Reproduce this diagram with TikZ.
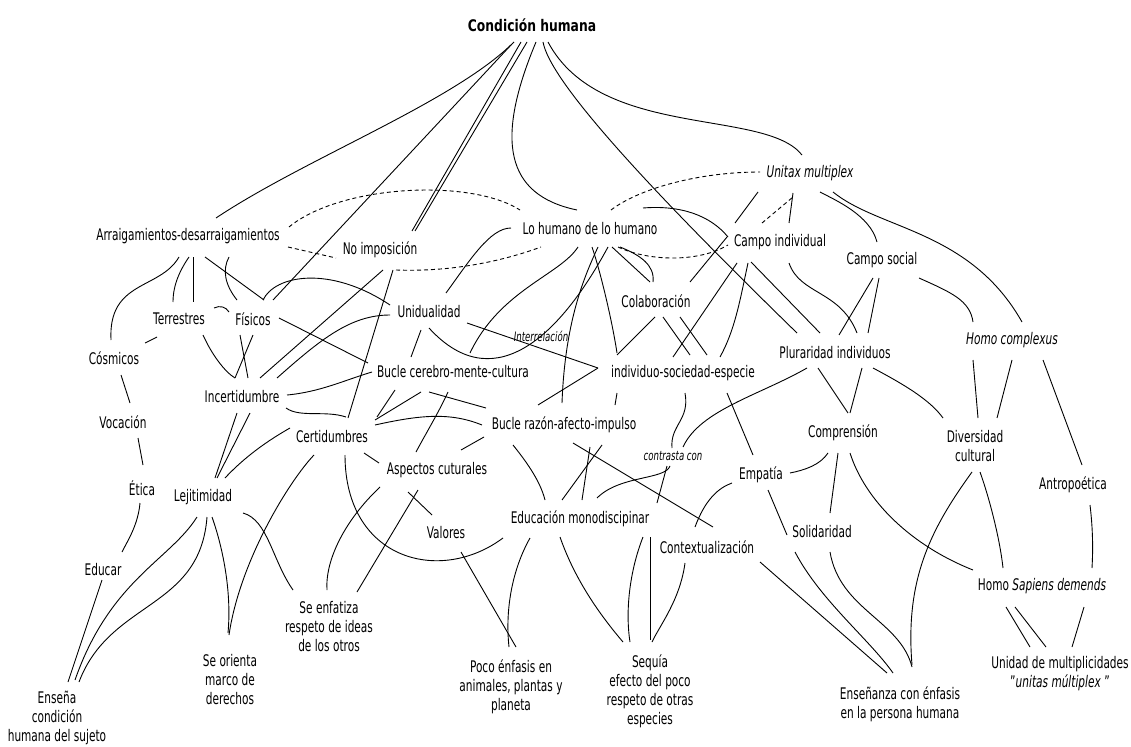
\documentclass[tikz,border=0pt]{standalone}
\usepackage{fontspec}
\setmainfont{DejaVu Sans}[FakeStretch=0.66]
\usetikzlibrary{calc}

\begin{document}
\begin{tikzpicture}[x=1pt,y=-1pt,font=\fontsize{16}{19}\selectfont]
  \tikzstyle{concept}=[inner sep=1pt,align=center]
  \tikzstyle{tag}=[inner sep=1pt,font=\fontsize{13}{15}\selectfont\itshape]
  \tikzstyle{link}=[line width=0.9pt]
  \tikzstyle{dlink}=[line width=0.9pt,dash pattern=on 4pt off 3pt]
  \useasboundingbox (0,0) rectangle (1131,746);
  % concepts
  \node[concept,font=\fontsize{16}{19}\selectfont\bfseries\addfontfeature{FakeStretch=0.77}] (ch) at (532,25) {Condición humana};
  \node[concept] (arr) at (188,236) {Arraigamientos-desarraigamientos};
  \node[concept] (noimp) at (380,250) {No imposición};
  \node[concept] (lohum) at (590,229) {Lo humano de lo humano};
  \node[concept] (unitax) at (810,173) {\itshape Unitax multiplex};
  \node[concept] (campind) at (780,242) {Campo individual};
  \node[concept] (campsoc) at (882,260) {Campo social};
  \node[concept] (terr) at (179,319) {Terrestres};
  \node[concept] (fis) at (253,319) {Físicos};
  \node[concept] (cosm) at (114,358) {Cósmicos};
  \node[concept] (unidual) at (429,312) {Unidualidad};
  \node[tag] (interrel) at (541,336) {Interrelación};
  \node[concept] (colab) at (656,301) {Colaboración};
  \node[concept] (homocomp) at (1012,340) {\itshape Homo complexus};
  \node[concept] (plural) at (835,353) {Pluraridad individuos};
  \node[concept] (bcmc) at (453,372) {Bucle cerebro-mente-cultura};
  \node[concept] (indsoc) at (683,373) {individuo-sociedad-especie};
  \node[concept] (incert) at (242,397) {Incertidumbre};
  \node[concept] (vocac) at (123,422) {Vocación};
  \node[concept] (brai) at (564,425) {Bucle razón-afecto-impulso};
  \node[concept] (certid) at (332,437) {Certidumbres};
  \node[concept] (compren) at (843,433) {Comprensión};
  \node[concept] (divcult) at (975,446) {Diversidad\\cultural};
  \node[tag] (contrasta) at (673,456) {contrasta con};
  \node[concept] (aspcult) at (437,470) {Aspectos cuturales};
  \node[concept] (empatia) at (761,475) {Empatía};
  \node[concept] (antrop) at (1073,485) {Antropoética};
  \node[concept] (etica) at (142,488) {Ética};
  \node[concept] (lejit) at (203,497) {Lejitimidad};
  \node[concept] (edumono) at (580,519) {Educación monodiscipinar};
  \node[concept] (solid) at (822,532) {Solidaridad};
  \node[concept] (valores) at (446,533) {Valores};
  \node[concept] (context) at (707,547) {Contextualización};
  \node[concept] (educar) at (103,570) {Educar};
  \node[concept] (homosap) at (1042,586) {Homo \textit{Sapiens demends}};
  \node[concept] (seenfat) at (329,627) {Se enfatiza\\respeto de ideas\\de los otros};
  \node[concept] (unidad) at (1060,674) {Unidad de multiplicidades\\"\textit{unitas múltiplex}\ "};
  \node[concept] (seorienta) at (230,680) {Se orienta\\marco de\\derechos};
  \node[concept] (poco) at (511,687) {Poco énfasis en\\animales, plantas y\\planeta};
  \node[concept] (sequia) at (650,691) {Sequía\\efecto del poco\\respeto de otras\\especies};
  \node[concept] (ensenanza) at (900,704) {Enseñanza con énfasis\\en la persona humana};
  \node[concept] (ensena) at (57,718) {Enseña\\condición\\humana del sujeto};
  % from the top concept
  \draw[link] ($(ch)+(-18,17)$) .. controls (454,102) and (306,158) .. ($(arr)+(28,-18)$);
  \draw[link] ($(ch)+(-21,20)$) -- ($(fis)+(20,-19)$);
  \draw[link] ($(ch)+(-11,17)$) -- ($(noimp)+(32,-19)$);
  \draw[link] ($(ch)+(-5,17)$) -- ($(noimp)+(35,-19)$);
  \draw[link] ($(ch)+(4,17)$) .. controls (495,140) and (505,195) .. ($(lohum)+(-13,-19)$);
  \draw[link] ($(ch)+(11,17)$) .. controls (550,80) and (640,180) .. ($(plural)+(-38,-20)$);
  \draw[link] ($(ch)+(16,17)$) .. controls (600,140) and (765,108) .. ($(unitax)+(-8,-18)$);
  % dashed relations
  \draw[dlink] ($(arr)+(101,-9)$) .. controls (340,185) and (470,178) .. ($(lohum)+(-70,-19)$);
  \draw[dlink] ($(arr)+(100,11)$) -- ($(noimp)+(-44,8)$);
  \draw[dlink] ($(noimp)+(16,20)$) .. controls (450,272) and (500,262) .. ($(lohum)+(-49,18)$);
  \draw[dlink] ($(lohum)+(21,-19)$) .. controls (640,188) and (700,172) .. ($(unitax)+(-50,-1)$);
  \draw[dlink] ($(lohum)+(28,18)$) .. controls (650,262) and (700,262) .. ($(campind)+(-52,3)$);
  \draw[dlink] ($(campind)+(-18,-19)$) -- ($(unitax)+(-17,24)$);
  % right branch
  \draw[link] ($(unitax)+(-17,20)$) -- ($(campind)+(9,-19)$);
  \draw[link] ($(unitax)+(-52,19)$) -- ($(campind)+(-45,-19)$);
  \draw[link] ($(unitax)+(10,19)$) .. controls (835,200) and (870,215) .. ($(campsoc)+(-5,-18)$);
  \draw[link] ($(unitax)+(23,19)$) .. controls (880,230) and (970,230) .. ($(homocomp)+(10,-18)$);
  \draw[link] ($(campsoc)+(-9,18)$) -- ($(plural)+(4,-18)$);
  \draw[link] ($(campsoc)+(-3,18)$) -- ($(plural)+(33,-20)$);
  \draw[link] ($(campsoc)+(37,18)$) .. controls (950,292) and (970,300) .. ($(homocomp)+(-39,-18)$);
  \draw[link] ($(campind)+(-29,20)$) -- ($(plural)+(-15,-20)$);
  \draw[link] ($(campind)+(9,21)$) .. controls (800,295) and (840,290) .. ($(plural)+(22,-20)$);
  \draw[link] ($(campind)+(-43,21)$) -- ($(indsoc)+(-10,-16)$);
  \draw[link] ($(campind)+(-32,21)$) .. controls (740,300) and (735,330) .. ($(indsoc)+(37,-16)$);
  \draw[link] ($(campind)+(-53,-5)$) -- ($(colab)+(34,-19)$);
  % Lo humano de lo humano
  \draw[link] ($(lohum)+(53,-21)$) .. controls (680,205) and (710,215) .. ($(campind)+(-52,-5)$);
  \draw[link] ($(lohum)+(22,18)$) -- ($(colab)+(-6,-19)$);
  \draw[link] ($(lohum)+(30,18)$) .. controls (640,255) and (655,265) .. ($(colab)+(-3,-19)$);
  \draw[link] ($(lohum)+(2,18)$) .. controls (600,270) and (612,320) .. ($(indsoc)+(-66,-20)$);
  \draw[link] ($(lohum)+(8,18)$) .. controls (585,275) and (565,320) .. ($(brai)+(-2,-22)$);
  \draw[link] ($(lohum)+(-12,18)$) .. controls (560,275) and (500,290) .. ($(bcmc)+(17,-19)$);
  \draw[link] ($(lohum)+(-79,-1)$) .. controls (490,228) and (470,260) .. ($(unidual)+(17,-19)$);
  \draw[link] ($(unidual)+(0,16)$) .. controls (490,395) and (555,345) .. ($(lohum)+(18,18)$);
  \draw[link] ($(colab)+(-1,16)$) -- ($(indsoc)+(-66,-18)$);
  \draw[link] ($(colab)+(7,16)$) -- ($(indsoc)+(7,-18)$);
  \draw[link] ($(colab)+(24,16)$) -- ($(indsoc)+(24,-18)$);
  % centre
  \draw[link] ($(unidual)+(38,11)$) -- ($(indsoc)+(-85,-5)$);
  \draw[link] ($(brai)+(-26,-20)$) -- ($(indsoc)+(-85,-5)$);
  \draw[link] ($(bcmc)+(-42,-15)$) -- ($(unidual)+(-8,18)$);
  \draw[link] ($(fis)+(26,-1)$) -- ($(bcmc)+(-85,-9)$);
  \draw[link] ($(fis)+(10,-19)$) .. controls (275,275) and (330,265) .. ($(unidual)+(-39,-7)$);
  \draw[link] ($(incert)+(35,-19)$) .. controls (320,340) and (350,315) .. ($(unidual)+(-39,3)$);
  \draw[link] ($(incert)+(18,-19)$) -- ($(noimp)+(3,20)$);
  \draw[link] ($(noimp)+(13,20)$) -- ($(certid)+(16,-19)$);
  % left branch
  \draw[link] ($(arr)+(17,21)$) -- ($(fis)+(11,-19)$);
  \draw[link] ($(arr)+(41,21)$) .. controls (222,270) and (225,285) .. ($(fis)+(-16,-19)$);
  \draw[link] ($(arr)+(1,21)$) .. controls (180,270) and (173,285) .. ($(terr)+(-6,-17)$);
  \draw[link] ($(arr)+(5,21)$) -- ($(terr)+(14,-17)$);
  \draw[link] ($(arr)+(-9,21)$) .. controls (160,290) and (108,280) .. ($(cosm)+(-3,-18)$);
  \draw[link] ($(terr)+(35,-11)$) .. controls (220,305) and (226,307) .. ($(fis)+(-24,-7)$);
  \draw[link] ($(terr)+(-22,18)$) -- ($(cosm)+(31,-15)$);
  \draw[link] ($(cosm)+(7,17)$) -- ($(vocac)+(7,-19)$);
  \draw[link] ($(vocac)+(15,16)$) -- ($(etica)+(1,-23)$);
  \draw[link] ($(etica)+(-2,15)$) .. controls (138,525) and (128,540) .. ($(educar)+(19,-18)$);
  \draw[link] ($(educar)+(-1,10)$) -- ($(ensena)+(11,-36)$);
  \draw[link] ($(terr)+(24,16)$) .. controls (212,355) and (225,372) .. ($(incert)+(-7,-19)$);
  \draw[link] ($(fis)+(-13,16)$) -- ($(incert)+(6,-19)$);
  \draw[link] ($(fis)+(0,16)$) -- ($(incert)+(-7,-19)$);
  \draw[link] ($(incert)+(-5,16)$) -- ($(lejit)+(12,-19)$);
  \draw[link] ($(incert)+(8,16)$) -- ($(lejit)+(14,-19)$);
  \draw[link] ($(certid)+(-42,-9)$) .. controls (260,445) and (240,462) .. ($(lejit)+(22,-19)$);
  \draw[link] ($(incert)+(45,-2)$) .. controls (320,392) and (345,380) .. ($(bcmc)+(-81,0)$);
  \draw[link] ($(incert)+(44,11)$) .. controls (300,418) and (325,410) .. ($(certid)+(14,-20)$);
  % bucles
  \draw[link] ($(bcmc)+(-58,18)$) -- ($(certid)+(45,-20)$);
  \draw[link] ($(bcmc)+(-32,20)$) -- ($(certid)+(43,-17)$);
  \draw[link] ($(bcmc)+(-24,20)$) -- ($(brai)+(-78,-17)$);
  \draw[link] ($(bcmc)+(-5,20)$) .. controls (440,410) and (425,435) .. ($(aspcult)+(-21,-18)$);
  \draw[link] ($(certid)+(43,-12)$) .. controls (420,415) and (450,412) .. ($(brai)+(-82,0)$);
  \draw[link] ($(aspcult)+(24,-20)$) -- ($(brai)+(-80,12)$);
  \draw[link] ($(brai)+(-51,20)$) .. controls (525,460) and (540,480) .. ($(edumono)+(-35,-19)$);
  \draw[link] ($(brai)+(38,20)$) -- ($(edumono)+(-18,-19)$);
  \draw[link] ($(brai)+(26,22)$) -- ($(edumono)+(2,-19)$);
  \draw[link] ($(brai)+(9,18)$) -- ($(context)+(6,-20)$);
  \draw[link] ($(indsoc)+(-66,20)$) -- ($(brai)+(51,-20)$);
  % lower left
  \draw[link] ($(certid)+(32,16)$) -- ($(aspcult)+(-58,-7)$);
  \draw[link] ($(certid)+(-18,18)$) .. controls (290,480) and (240,560) .. ($(seorienta)+(-1,-45)$);
  \draw[link] ($(certid)+(13,18)$) .. controls (345,560) and (440,585) .. ($(edumono)+(-77,19)$);
  \draw[link] ($(aspcult)+(-57,17)$) .. controls (345,520) and (325,560) .. ($(seenfat)+(-2,-37)$);
  \draw[link] ($(aspcult)+(-19,20)$) -- ($(seenfat)+(28,-35)$);
  \draw[link] ($(aspcult)+(-29,22)$) -- ($(valores)+(-14,-18)$);
  \draw[link] ($(lejit)+(40,16)$) .. controls (268,520) and (272,560) .. ($(seenfat)+(-36,-37)$);
  \draw[link] ($(lejit)+(9,20)$) .. controls (222,545) and (232,590) .. ($(seorienta)+(-2,-47)$);
  \draw[link] ($(lejit)+(-6,20)$) .. controls (170,560) and (110,580) .. ($(ensena)+(18,-38)$);
  \draw[link] ($(lejit)+(4,20)$) .. controls (200,610) and (110,600) .. ($(ensena)+(22,-36)$);
  \draw[link] ($(valores)+(15,19)$) -- ($(poco)+(5,-40)$);
  \draw[link] ($(edumono)+(-50,19)$) .. controls (512,570) and (505,610) .. ($(poco)+(-2,-40)$);
  % lower middle
  \draw[link] ($(edumono)+(-20,18)$) .. controls (575,580) and (600,615) .. ($(sequia)+(-27,-49)$);
  \draw[link] ($(edumono)+(63,18)$) .. controls (630,570) and (625,610) .. ($(sequia)+(-20,-49)$);
  \draw[link] ($(edumono)+(70,18)$) -- ($(sequia)+(0,-51)$);
  \draw[link] ($(context)+(-22,16)$) .. controls (680,600) and (660,625) .. ($(sequia)+(2,-49)$);
  \draw[link] ($(indsoc)+(2,20)$) .. controls (690,420) and (670,425) .. ($(contrasta)+(-1,-8)$);
  \draw[link] ($(contrasta)+(-3,10)$) .. controls (665,480) and (620,475) .. ($(edumono)+(17,-21)$);
  \draw[link] ($(contrasta)+(-6,10)$) -- ($(edumono)+(77,-16)$);
  \draw[link] ($(plural)+(-28,15)$) .. controls (760,395) and (700,410) .. ($(contrasta)+(10,-9)$);
  \draw[link] ($(indsoc)+(44,20)$) -- ($(empatia)+(-8,-20)$);
  \draw[link] ($(context)+(-12,-20)$) .. controls (705,500) and (718,488) .. ($(empatia)+(-29,8)$);
  \draw[link] ($(empatia)+(7,15)$) -- ($(solid)+(-35,3)$);
  % lower right
  \draw[link] ($(compren)+(-15,20)$) .. controls (820,465) and (805,470) .. ($(empatia)+(29,-2)$);
  \draw[link] ($(compren)+(-5,20)$) -- ($(solid)+(8,-19)$);
  \draw[link] ($(compren)+(7,20)$) .. controls (865,500) and (910,545) .. ($(homosap)+(-69,-16)$);
  \draw[link] ($(plural)+(-17,15)$) -- ($(compren)+(5,-20)$);
  \draw[link] ($(plural)+(27,15)$) -- ($(compren)+(7,-20)$);
  \draw[link] ($(plural)+(38,15)$) .. controls (905,385) and (930,400) .. ($(divcult)+(-32,-28)$);
  \draw[link] ($(homocomp)+(-39,20)$) -- ($(divcult)+(3,-28)$);
  \draw[link] ($(homocomp)+(0,20)$) -- ($(divcult)+(22,-28)$);
  \draw[link] ($(homocomp)+(31,20)$) -- ($(antrop)+(9,-20)$);
  \draw[link] ($(antrop)+(17,20)$) .. controls (1093,530) and (1093,550) .. ($(homosap)+(50,-18)$);
  \draw[link] ($(divcult)+(5,26)$) .. controls (990,500) and (1000,540) .. ($(homosap)+(-39,-18)$);
  \draw[link] ($(divcult)+(-3,26)$) .. controls (930,530) and (905,580) .. ($(ensenanza)+(12,-39)$);
  \draw[link] ($(solid)+(8,20)$) .. controls (840,610) and (900,620) .. ($(ensenanza)+(12,-37)$);
  \draw[link] ($(solid)+(-27,20)$) .. controls (820,600) and (870,640) .. ($(ensenanza)+(-7,-31)$);
  \draw[link] ($(context)+(53,15)$) -- ($(ensenanza)+(-13,-31)$);
  \draw[link] ($(homosap)+(-36,21)$) -- ($(unidad)+(-30,-27)$);
  \draw[link] ($(homosap)+(-27,21)$) -- ($(unidad)+(-14,-27)$);
  \draw[link] ($(homosap)+(42,21)$) -- ($(unidad)+(12,-27)$);
\end{tikzpicture}
\end{document}
